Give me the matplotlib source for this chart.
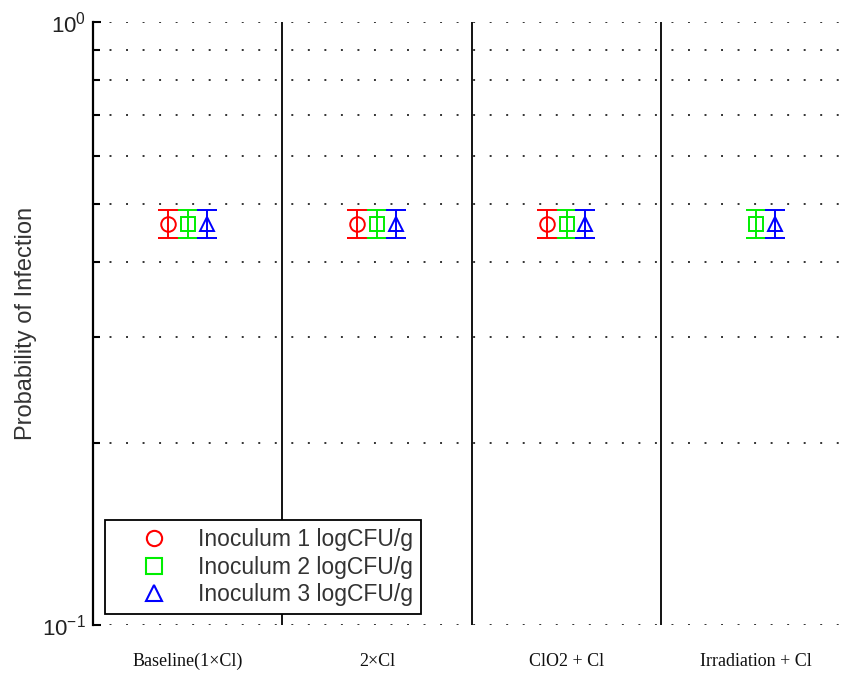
import numpy as np
import matplotlib
matplotlib.use("Agg")
import matplotlib.pyplot as plt

# treatment categories on the x axis
categories = ['Baseline(1\u00d7Cl)', '2\u00d7Cl', 'ClO2 + Cl', 'Irradiation + Cl']
series_names = ['Inoculum 1 logCFU/g', 'Inoculum 2 logCFU/g', 'Inoculum 3 logCFU/g']

# mean probability of infection per inoculum level (nan = not shown)
p_inoc1 = [0.462, 0.462, 0.462, np.nan]
p_inoc2 = [0.462, 0.462, 0.462, 0.462]
p_inoc3 = [0.462, 0.462, 0.462, 0.462]
# lower / upper bounds of the error bars
lo_inoc1 = [0.438, 0.438, 0.438, np.nan]
lo_inoc2 = [0.438, 0.438, 0.438, 0.438]
lo_inoc3 = [0.438, 0.438, 0.438, 0.438]
hi_inoc1 = [0.487, 0.487, 0.487, np.nan]
hi_inoc2 = [0.487, 0.487, 0.487, 0.487]
hi_inoc3 = [0.487, 0.487, 0.487, 0.487]

means = [p_inoc1, p_inoc2, p_inoc3]
lows = [lo_inoc1, lo_inoc2, lo_inoc3]
highs = [hi_inoc1, hi_inoc2, hi_inoc3]
colors = ['#ff0000', '#00ee00', '#0000ff']
markers = ['o', 's', '^']
offsets = [-0.105, 0.0, 0.1]

fig = plt.figure(figsize=(8.44, 6.73), dpi=100)
ax = fig.add_axes([0.110, 0.0713, 0.898, 0.896])

x = np.arange(1, len(categories) + 1)
for i in range(3):
    m = np.array(means[i])
    err = np.vstack([m - np.array(lows[i]), np.array(highs[i]) - m])
    ax.errorbar(x + offsets[i], m, yerr=err, fmt=markers[i], color=colors[i],
                mfc='none', mec=colors[i], ms=10.5, mew=1.4, elinewidth=1.4,
                capsize=7.5, capthick=1.4, label=series_names[i], zorder=3)

# separators between treatment groups
for xs in x[:-1] + 0.5:
    ax.axvline(xs, color='black', lw=1.3, zorder=2)

ax.set_yscale('log')
ax.set_ylim(0.1, 1.0)
ax.set_xlim(0.5, 4.5)
ax.set_xticks(x)
ax.set_xticklabels(categories, fontfamily='Liberation Serif', fontsize=13,
                   color='#111111')
ax.tick_params(axis='x', length=0, pad=20)
ax.set_yticks([0.1, 1.0])
ax.set_yticklabels([r'$\mathregular{10^{-1}}$', r'$\mathregular{10^{0}}$'],
                   fontfamily='Liberation Sans', fontsize=16, color='#222222')
ax.set_yticks(np.arange(0.2, 1.0, 0.1), minor=True)
ax.yaxis.set_minor_formatter(matplotlib.ticker.NullFormatter())
ax.tick_params(axis='y', which='both', direction='in', width=1.5, length=6, pad=5)
ax.tick_params(axis='y', which='minor', length=5)

ax.grid(True, which='both', axis='y', color='#333333', linestyle=(0, (1, 7.5)), lw=1.4)
for s in ['top', 'right', 'bottom']:
    ax.spines[s].set_visible(False)
ax.spines['left'].set_linewidth(1.6)

ax.set_ylabel('Probability of Infection', fontfamily='Liberation Sans', fontsize=17,
              color='#333333', labelpad=4)

leg_handles = [plt.Line2D([], [], ls='none', marker=markers[i], mfc='none',
                          mec=colors[i], ms=11, mew=1.5) for i in range(3)]
leg = ax.legend(handles=leg_handles, labels=series_names, loc='lower left',
                bbox_to_anchor=(0.016, 0.018), frameon=True, fancybox=False,
                edgecolor='black', framealpha=1,
                prop={'family': 'Liberation Sans', 'size': 16.5},
                handletextpad=0.1, borderpad=0.35, labelspacing=0.2,
                handlelength=3.6, borderaxespad=0)
leg.get_frame().set_linewidth(1.3)
for t in leg.get_texts():
    t.set_color('#333333')

fig.savefig('out.png', dpi=100)
